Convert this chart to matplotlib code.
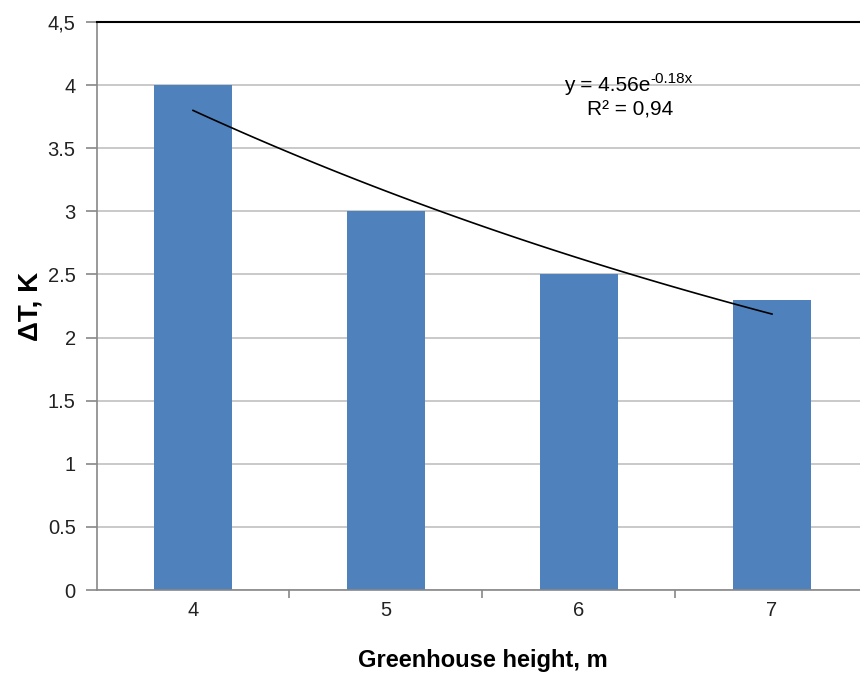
import numpy as np
import matplotlib
matplotlib.use("Agg")
import matplotlib.pyplot as plt

plt.rcParams['font.family'] = ['Liberation Sans', 'DejaVu Sans']

## Data
heights = ['4', '5', '6', '7']
delta_t = [4.0, 3.0, 2.5, 2.3]
y_ticks = [0, 0.5, 1, 1.5, 2, 2.5, 3, 3.5, 4, 4.5]
y_tick_labels = ['0', '0.5', '1', '1.5', '2', '2.5', '3', '3.5', '4', '4,5']

## Exponential trend fitted on category index (like Excel does)
x_idx = np.arange(1, len(delta_t) + 1)
b, ln_a = np.polyfit(x_idx, np.log(delta_t), 1)
a = np.exp(ln_a)
x_fit = np.linspace(x_idx[0], x_idx[-1], 100)
y_fit = a * np.exp(b * x_fit)

fig = plt.figure(figsize=(8.6, 6.74), dpi=100)
ax = fig.add_axes([96.5 / 860, 84 / 674, 772 / 860, 568 / 674])

ax.bar(x_idx, delta_t, width=0.4, color='#4f81bd', zorder=2)
ax.plot(x_fit, y_fit, color='black', linewidth=1.2, zorder=3)

ax.set_xlim(0.5, 4.5)
ax.set_ylim(0, 4.5)

# grid and frame
ax.set_yticks(y_ticks)
ax.set_yticklabels(y_tick_labels, fontsize=14.5, color='#222222')
ax.yaxis.grid(True, color='#c0c0c0', linewidth=1.2, zorder=0)
ax.set_axisbelow(True)
ax.spines['right'].set_visible(False)
ax.spines['top'].set_color('black')
ax.spines['top'].set_linewidth(1.5)
for s in ['left', 'bottom']:
    ax.spines[s].set_color('#888888')
    ax.spines[s].set_linewidth(1.2)
ax.tick_params(axis='y', length=8, width=1.2, color='#888888', pad=7)

# x ticks: labels at centres, marks at category boundaries
ax.set_xticks(x_idx)
ax.set_xticklabels(heights, fontsize=14.5, color='#222222')
ax.tick_params(axis='x', which='major', length=0, pad=8)
ax.set_xticks(np.arange(1.5, 4.5, 1), minor=True)
ax.tick_params(axis='x', which='minor', length=6, width=1.2, color='#888888')

ax.set_xlabel('Greenhouse height, m', fontsize=17, fontweight='bold', labelpad=21)
ax.set_ylabel('ΔT, K', fontsize=20, fontweight='bold', labelpad=3)

# trendline label, as Excel shows it
ax.text(3.368, 4.0, 'y = 4.56e', fontsize=15, ha='right', va='center')
ax.text(3.368, 4.05, '-0.18x', fontsize=11, ha='left', va='center')
ax.text(3.264, 3.80, 'R² = 0,94', fontsize=15, ha='center', va='center')

fig.savefig('out.png', dpi=100)
